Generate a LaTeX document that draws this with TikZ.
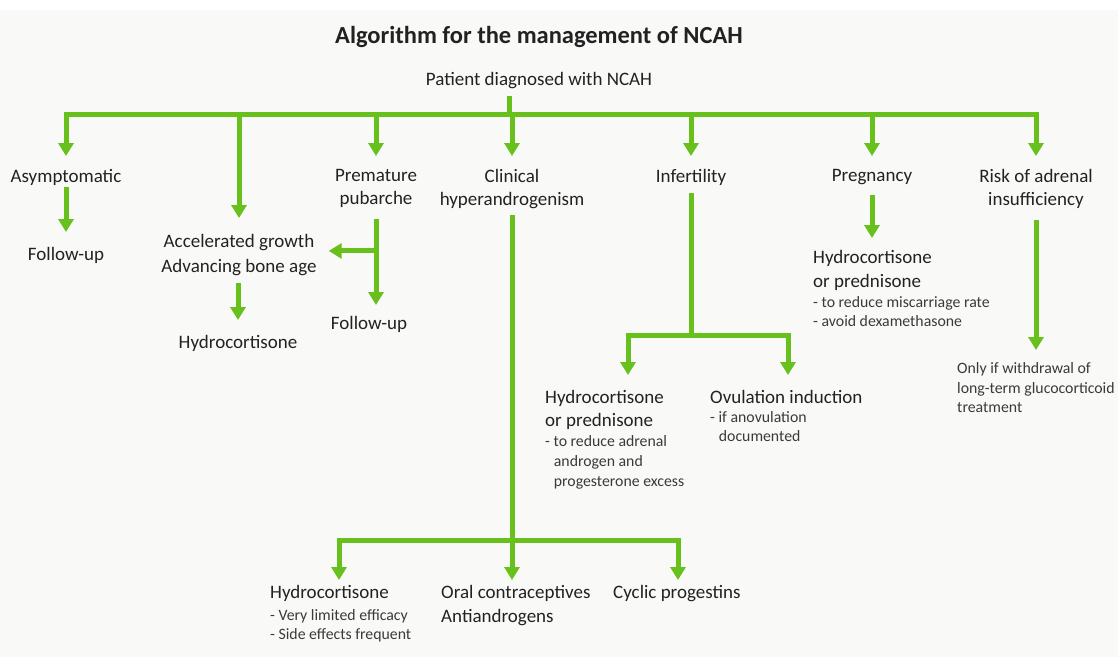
\documentclass[tikz,border=0pt]{standalone}
\usepackage{fontspec}
\setmainfont{Carlito}
\usepackage{xcolor}
\usetikzlibrary{arrows.meta,positioning}
\definecolor{ncgreen}{RGB}{104,192,28}
\definecolor{inkgray}{RGB}{34,34,34}
\definecolor{notegray}{RGB}{58,58,58}
\definecolor{paper}{RGB}{249,249,247}
\tikzset{
  lbl/.style={inner sep=0pt, font=\fontsize{19}{23}\selectfont, text=inkgray, align=center},
  lblL/.style={lbl, align=left},
  note/.style={inner sep=0pt, font=\fontsize{15.8}{19.5}\selectfont, text=notegray, align=left},
  arr/.style={line width=5pt, draw=ncgreen, -{Triangle[width=15pt,length=13pt]}, shorten >=13pt},
  bar/.style={line width=5pt, draw=ncgreen, line cap=rect}
}
\newcommand{\ind}{\hspace*{.55em}}

\begin{document}
\begin{tikzpicture}[x=1pt,y=-1pt]
  \useasboundingbox (0,0) rectangle (1118,657);
  \fill[paper] (0,0) rectangle (1118,657);
  \fill[white] (0,0) rectangle (1118,10);

  % heading
  \node[inner sep=0pt, anchor=base, text=inkgray, font=\fontsize{24.5}{29}\selectfont\bfseries] (title) at (539,43) {Algorithm for the management of NCAH};
  \node[lbl, anchor=base] (patient) at (539,85) {Patient diagnosed with NCAH};
  \coordinate (tb) at (509,114);

  % first row
  \node[lbl, anchor=north] (asym) at (66,169) {Asymptomatic};
  \node[lbl, anchor=north, font=\fontsize{19}{25}\selectfont] (accel) at (239,234) {Accelerated growth\\Advancing bone age};
  \node[lbl, anchor=north] (prem) at (376,169) {Premature\\pubarche};
  \node[lbl, anchor=north] (clin) at (512,169) {Clinical\\hyperandrogenism};
  \node[lbl, anchor=north] (infert) at (691,169) {Infertility};
  \node[lbl, anchor=north] (preg) at (872,169) {Pregnancy};
  \node[lbl, anchor=north] (risk) at (1036,169) {Risk of adrenal\\insufficiency};

  % outcomes
  \node[lbl, anchor=north] (fuA) at (66,247) {Follow-up};
  \node[lbl, anchor=north] (hcA) at (238,335) {Hydrocortisone};
  \node[lbl, anchor=north] (fuB) at (369,316) {Follow-up};

  \node[lblL, anchor=north west, font=\fontsize{19}{24}\selectfont] (hpP) at (813,250) {Hydrocortisone\\or prednisone};
  \node[note, anchor=north west, font=\fontsize{15.8}{18.5}\selectfont] (hpPn) at (813,296.5) {- to reduce miscarriage rate\\- avoid dexamethasone};

  \node[note, anchor=north west] (riskn) at (957,362.5) {Only if withdrawal of\\long-term glucocorticoid\\treatment};

  \node[lblL, anchor=north west] (hpI) at (545,390) {Hydrocortisone\\or prednisone};
  \node[note, anchor=north west, font=\fontsize{15.8}{20}\selectfont] (hpIn) at (545,435.5) {- to reduce adrenal\\\ind androgen and\\\ind progesterone excess};
  \node[lblL, anchor=north west] (ovul) at (710,390) {Ovulation induction};
  \node[note, anchor=north west, font=\fontsize{15.8}{19}\selectfont] (ovuln) at (710,411.5) {- if anovulation\\\ind documented};

  \node[lblL, anchor=north west] (hcC) at (270,585) {Hydrocortisone};
  \node[note, anchor=north west, font=\fontsize{15.8}{18.5}\selectfont] (hcCn) at (270,609.5) {- Very limited efficacy\\- Side effects frequent};
  \node[lblL, anchor=north west, font=\fontsize{19}{24}\selectfont] (oral) at (441,585) {Oral contraceptives\\Antiandrogens};
  \node[lblL, anchor=north west] (cyc) at (613,585) {Cyclic progestins};

  % main branching
  \draw[bar, shorten <=10pt] (tb |- patient.south) -- (tb);
  \draw[bar] (asym |- tb) -- (risk |- tb);
  \foreach \n in {asym,prem,clin,infert,preg,risk}
    \draw[arr] (\n |- tb) -- (\n.north);
  \draw[arr, shorten >=16pt] (accel |- tb) -- (accel.north);

  % second level
  \draw[arr, shorten <=1pt, shorten >=15pt] (asym.south) -- (fuA.north);
  \draw[arr, shorten <=7pt, shorten >=15pt] (hcA |- accel.south) -- (hcA.north);
  \draw[arr, shorten <=11pt, shorten >=11pt] (prem.south) -- (prem.south |- fuB.north);
  \draw[arr, shorten >=12pt] ([yshift=4pt]prem.south |- accel.east) -- ([yshift=4pt]accel.east);
  \draw[arr, shorten <=10pt, shorten >=12pt] (preg.south) -- (preg.south |- hpP.north);
  \draw[arr, shorten <=11pt, shorten >=12.5pt] (risk.south) -- (risk.south |- riskn.north);

  % infertility
  \coordinate (ibl) at (628,335);
  \coordinate (ibr) at (788,335);
  \draw[bar, shorten <=10pt] (infert.south) -- (infert |- ibl);
  \draw[bar] (ibl) -- (ibr);
  \draw[arr, shorten >=15pt] (ibl) -- (ibl |- hpI.north);
  \draw[arr, shorten >=15pt] (ibr) -- (ibr |- ovul.north);

  % hyperandrogenism
  \coordinate (cbl) at (339,540);
  \coordinate (cbr) at (678,540);
  \draw[bar, shorten <=9pt] (clin.south) -- (clin |- cbl);
  \draw[bar] (cbl) -- (cbr);
  \draw[arr, shorten >=5pt] (cbl) -- (cbl |- hcC.north);
  \draw[arr, shorten >=5pt] (clin |- cbl) -- (clin |- oral.north);
  \draw[arr, shorten >=5pt] (cbr) -- (cbr |- cyc.north);
\end{tikzpicture}
\end{document}
